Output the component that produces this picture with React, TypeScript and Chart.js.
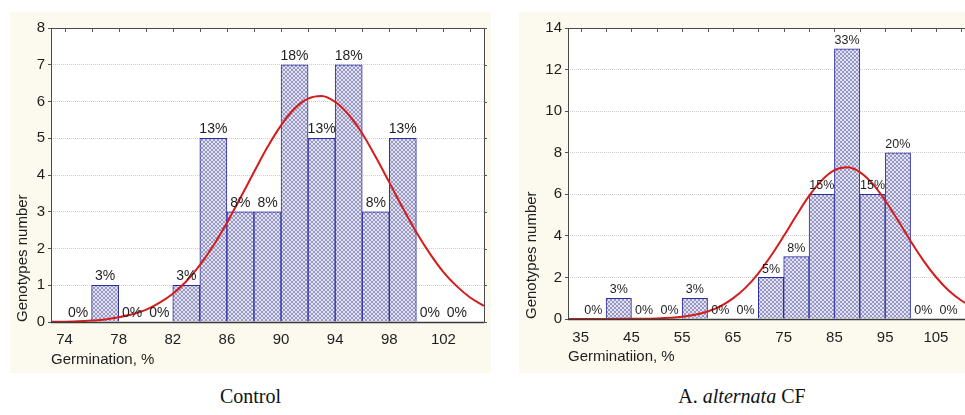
import React, { useEffect, useRef } from "react";
import { Chart, registerables } from "chart.js";

Chart.register(...registerables);

// ---------- Control panel data ----------
const controlBinStarts = [74, 76, 78, 80, 82, 84, 86, 88, 90, 92, 94, 96, 98, 100, 102];
const controlCounts = [0, 1, 0, 0, 1, 5, 3, 3, 7, 5, 7, 3, 5, 0, 0];
const controlPct = [0, 3, 0, 0, 3, 13, 8, 8, 18, 13, 18, 8, 13, 0, 0];
const controlBinWidth = 2;
const controlXTicks = [74, 78, 82, 86, 90, 94, 98, 102];
const controlCurveX = [73, 74, 75, 76, 77, 78, 79, 80, 81, 82, 83, 84, 85, 86, 87, 88, 89, 90, 91, 92, 93, 94, 95, 96, 97, 98, 99, 100, 101, 102, 103, 104, 105];
const controlCurveY = [0.01, 0.01, 0.02, 0.04, 0.07, 0.13, 0.21, 0.33, 0.52, 0.77, 1.11, 1.55, 2.08, 2.7, 3.38, 4.08, 4.76, 5.35, 5.81, 6.08, 6.15, 5.99, 5.64, 5.13, 4.49, 3.8, 3.1, 2.44, 1.86, 1.36, 0.97, 0.66, 0.44];

// ---------- A. alternata CF panel data ----------
const alterBinStarts = [35, 40, 45, 50, 55, 60, 65, 70, 75, 80, 85, 90, 95, 100, 105];
const alterCounts = [0, 1, 0, 0, 1, 0, 0, 2, 3, 6, 13, 6, 8, 0, 0];
const alterPct = [0, 3, 0, 0, 3, 0, 0, 5, 8, 15, 33, 15, 20, 0, 0];
const alterBinWidth = 5;
const alterXTicks = [35, 45, 55, 65, 75, 85, 95, 105];
const alterCurveX = [32.5, 35, 40, 45, 50, 55, 57.5, 60, 62.5, 65, 67.5, 70, 72.5, 75, 77.5, 80, 82.5, 85, 87.5, 90, 92.5, 95, 97.5, 100, 102.5, 105, 107.5, 110, 112.5];
const alterCurveY = [0, 0, 0, 0.01, 0.03, 0.11, 0.2, 0.36, 0.61, 0.99, 1.51, 2.2, 3.04, 3.99, 4.98, 5.92, 6.67, 7.16, 7.3, 7.07, 6.51, 5.7, 4.75, 3.75, 2.82, 2.02, 1.37, 0.89, 0.54];

const SANS = "'Liberation Sans', Arial, sans-serif";
const CREAM = "#fcf9ee";
const AXIS_FONT = 15;

function makePattern(): CanvasPattern | string {
  const c = document.createElement("canvas");
  c.width = 4;
  c.height = 4;
  const g = c.getContext("2d");
  if (!g) return "#bcbcd8";
  g.fillStyle = "#e2e2ef";
  g.fillRect(0, 0, 4, 4);
  g.fillStyle = "#9898c6";
  for (let i = 0; i < 4; i++) {
    g.fillRect(i, i, 1, 1);
    g.fillRect(3 - i, i, 1, 1);
  }
  const p = g.createPattern(c, "repeat");
  return p || "#bcbcd8";
}

type PanelProps = {
  binStarts: number[];
  counts: number[];
  pct: number[];
  binWidth: number;
  xTicks: number[];
  curveX: number[];
  curveY: number[];
  xMin: number;
  xMax: number;
  yMax: number;
  yStep: number;
  xTitle: string;
  width: number;
  height: number;
  yAxisWidth: number;
  xAxisHeight: number;
  padRight: number;
  padTop: number;
  labelFont: number;
  xTickPad: number;
  xTitlePadBottom: number;
};

function HistPanel(props: PanelProps) {
  const ref = useRef<HTMLCanvasElement | null>(null);
  useEffect(() => {
    const canvas = ref.current;
    if (!canvas) return;
    const pattern = makePattern();
    const centers = props.binStarts.map((s) => s + props.binWidth / 2);
    const edges = [...props.binStarts, props.binStarts[props.binStarts.length - 1] + props.binWidth];

    const histPlugin = {
      id: "histDecor",
      beforeDraw(chart: any) {
        const ctx = chart.ctx;
        const a = chart.chartArea;
        ctx.save();
        ctx.fillStyle = CREAM;
        ctx.fillRect(0, 0, chart.width, chart.height);
        ctx.fillStyle = "#ffffff";
        ctx.fillRect(a.left, a.top, a.right - a.left, a.bottom - a.top);
        ctx.restore();
      },
      afterDatasetsDraw(chart: any) {
        const ctx = chart.ctx;
        const xs = chart.scales.x;
        const ys = chart.scales.y;
        ctx.save();
        ctx.fillStyle = "#1e1e1e";
        ctx.font = `${props.labelFont}px ${SANS}`;
        ctx.textAlign = "center";
        ctx.textBaseline = "bottom";
        centers.forEach((c, i) => {
          const px = xs.getPixelForValue(c);
          const py = ys.getPixelForValue(props.counts[i]);
          ctx.fillText(`${props.pct[i]}%`, px, py - 2);
        });
        ctx.restore();
      },
      afterDraw(chart: any) {
        const ctx = chart.ctx;
        const a = chart.chartArea;
        const xs = chart.scales.x;
        const ys = chart.scales.y;
        ctx.save();
        ctx.strokeStyle = "#4a4a4a";
        ctx.lineWidth = 1;
        ctx.strokeRect(Math.round(a.left) + 0.5, Math.round(a.top) + 0.5, Math.round(a.right - a.left), Math.round(a.bottom - a.top));
        ctx.strokeStyle = "#555555";
        ctx.beginPath();
        edges.forEach((e) => {
          const px = Math.round(xs.getPixelForValue(e)) + 0.5;
          ctx.moveTo(px, Math.round(a.top));
          ctx.lineTo(px, Math.round(a.top) + 4);
        });
        ys.ticks.forEach((t: any) => {
          const py = Math.round(ys.getPixelForValue(t.value)) + 0.5;
          ctx.moveTo(Math.round(a.right), py);
          ctx.lineTo(Math.round(a.right) + 3, py);
        });
        ctx.stroke();
        ctx.strokeStyle = "#3a3a3a";
        ctx.lineWidth = 1.5;
        ctx.beginPath();
        ctx.moveTo(a.left, Math.round(a.bottom) + 0.5);
        ctx.lineTo(a.right, Math.round(a.bottom) + 0.5);
        ctx.stroke();
        ctx.restore();
      },
    };

    const chart = new Chart(canvas, {
      type: "bar",
      data: {
        datasets: [
          {
            type: "line",
            data: props.curveX.map((x, i) => ({ x, y: props.curveY[i] })),
            borderColor: "#d41c1c",
            borderWidth: 2,
            pointRadius: 0,
            cubicInterpolationMode: "monotone",
            fill: false,
            order: 0,
          } as any,
          {
            type: "bar",
            data: centers.map((x, i) => ({ x, y: props.counts[i] === 0 ? null : props.counts[i] })),
            backgroundColor: pattern as any,
            borderColor: "#2b2ba6",
            borderWidth: 1,
            borderSkipped: "bottom",
            barPercentage: 1,
            categoryPercentage: 1,
            order: 1,
          } as any,
        ],
      },
      options: {
        animation: false,
        responsive: false,
        devicePixelRatio: 1,
        layout: { padding: { left: 0, top: props.padTop, right: props.padRight, bottom: 0 } },
        plugins: {
          legend: { display: false },
          tooltip: { enabled: false },
        },
        scales: {
          x: {
            type: "linear",
            min: props.xMin,
            max: props.xMax,
            offset: false,
            grid: { display: false },
            border: { display: false },
            ticks: {
              color: "#1e1e1e",
              font: { size: AXIS_FONT, family: SANS },
              padding: props.xTickPad,
              maxRotation: 0,
              autoSkip: false,
            },
            afterBuildTicks: (scale: any) => {
              scale.ticks = props.xTicks.map((v) => ({ value: v }));
            },
            afterFit: (scale: any) => {
              scale.height = props.xAxisHeight;
            },
            title: {
              display: true,
              text: props.xTitle,
              align: "start",
              color: "#1e1e1e",
              font: { size: AXIS_FONT, family: SANS },
              padding: { top: 0, bottom: props.xTitlePadBottom },
            },
          },
          y: {
            min: 0,
            max: props.yMax,
            grid: {
              color: "#cfcfcf",
              drawTicks: true,
              tickLength: 3,
              tickColor: "#555555",
            },
            border: { display: false, dash: [1, 1] },
            ticks: {
              stepSize: props.yStep,
              color: "#1e1e1e",
              font: { size: AXIS_FONT, family: SANS },
              padding: 3,
            },
            afterFit: (scale: any) => {
              scale.width = props.yAxisWidth;
            },
            title: {
              display: true,
              text: "Genotypes number",
              align: "start",
              color: "#1e1e1e",
              font: { size: AXIS_FONT, family: SANS },
              padding: { top: 4, bottom: 0 },
            },
          },
        },
      } as any,
      plugins: [histPlugin],
    });
    return () => chart.destroy();
  }, []);
  return <canvas ref={ref} width={props.width} height={props.height} style={{ display: "block" }} />;
}

export default function App() {
  const captionStyle: React.CSSProperties = {
    position: "absolute",
    top: 384,
    height: 24,
    lineHeight: "24px",
    textAlign: "center",
    fontFamily: "'Liberation Serif', 'Times New Roman', serif",
    fontSize: 20,
    color: "#111",
  };
  return (
    <div style={{ position: "absolute", left: 0, top: 0, width: 965, height: 415, overflow: "hidden", background: "#ffffff" }}>
      <div style={{ position: "absolute", left: 10, top: 12, width: 481, height: 361 }}>
        <HistPanel
          binStarts={controlBinStarts}
          counts={controlCounts}
          pct={controlPct}
          binWidth={controlBinWidth}
          xTicks={controlXTicks}
          curveX={controlCurveX}
          curveY={controlCurveY}
          xMin={73}
          xMax={105}
          yMax={8}
          yStep={1}
          xTitle="Germination, %"
          width={481}
          height={361}
          yAxisWidth={41}
          xAxisHeight={51}
          padRight={7}
          padTop={16}
          labelFont={14}
          xTickPad={1}
          xTitlePadBottom={4}
        />
      </div>
      <div style={{ position: "absolute", left: 519, top: 12, width: 475, height: 361 }}>
        <HistPanel
          binStarts={alterBinStarts}
          counts={alterCounts}
          pct={alterPct}
          binWidth={alterBinWidth}
          xTicks={alterXTicks}
          curveX={alterCurveX}
          curveY={alterCurveY}
          xMin={32.5}
          xMax={112.5}
          yMax={14}
          yStep={2}
          xTitle="Germinatiion, %"
          width={475}
          height={361}
          yAxisWidth={49}
          xAxisHeight={54}
          padRight={20}
          padTop={16}
          labelFont={12.5}
          xTickPad={2}
          xTitlePadBottom={7}
        />
      </div>
      <div style={{ ...captionStyle, left: 10, width: 481 }}>Control</div>
      <div style={{ ...captionStyle, left: 519, width: 446 }}>
        A. <i>alternata</i> CF
      </div>
    </div>
  );
}
